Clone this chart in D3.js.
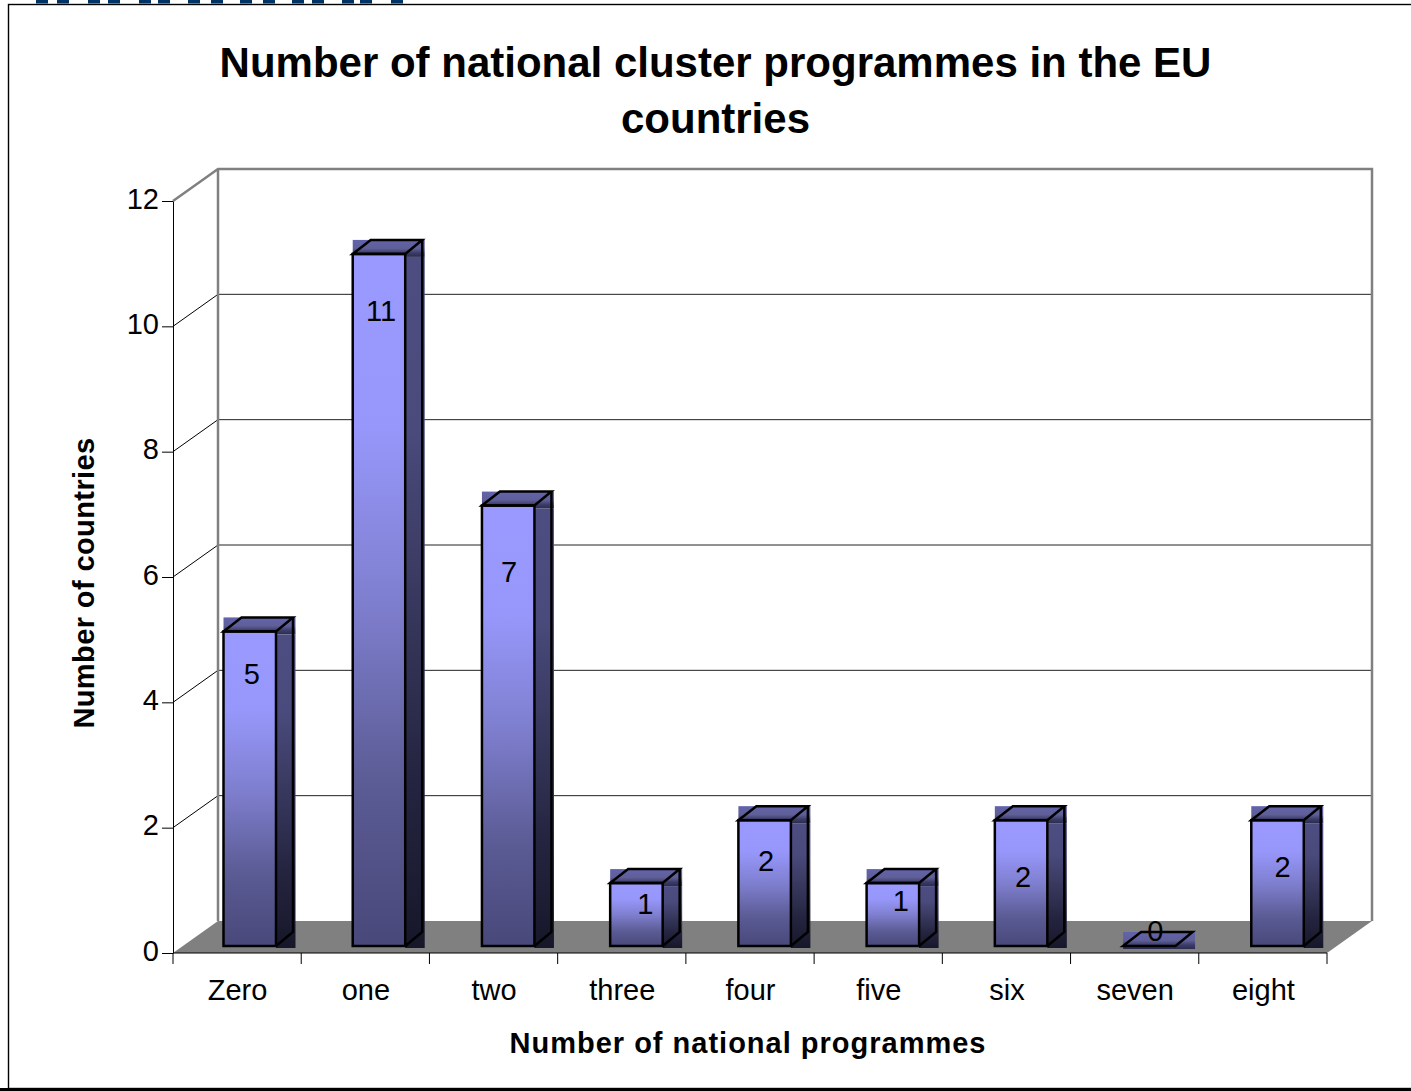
<!DOCTYPE html>
<html><head><meta charset="utf-8">
<script src="https://cdn.jsdelivr.net/npm/d3@7"></script>
<style>html,body{margin:0;padding:0;background:#fff;overflow:hidden}svg{display:block}text{font-family:"Liberation Sans",Arial,sans-serif;fill:#000}</style>
</head><body><svg id="c" width="1411" height="1091"></svg>
<script>
const categories=["Zero","one","two","three","four","five","six","seven","eight"];
const values=[5,11,7,1,2,1,2,0,2];
const yTicks=[0,2,4,6,8,10,12];
const title=["Number of national cluster programmes in the EU","countries"];
const labelDy=[52.5,67.5,76,31,51,28,67,-5,57];
const labelDx=[2,2,1,9,1.5,8,2,6,5];
const headerStarts=[36,57,88,108,139,158,188,211,240,263,292,312,342,360,391];

const svg=d3.select("#c");
const W=1411,H=1091;
const x=d3.scaleBand().domain(categories).range([173,1327]);
const y=d3.scaleLinear().domain([0,12]).range([953,201]);
const yb=d3.scaleLinear().domain([0,12]).range([946,191]);
const DX=45,DY=-32;       // wall depth
const bx=18,by=-14;       // bar depth
const barOff=50.5,barW=52.5;
const FS=29;

const defs=svg.append("defs");
function grad(id,stops){const g=defs.append("linearGradient").attr("id",id).attr("x1",0).attr("x2",0).attr("y1",0).attr("y2",1);
 stops.forEach(s=>g.append("stop").attr("offset",s[0]).attr("stop-color",s[1]));}
grad("front",[[0,"#9999ff"],[.25,"#9797fb"],[.5,"#7f7fd0"],[.76,"#5c5c96"],[1,"#48487a"]]);
grad("side",[[0,"#4d4d82"],[.25,"#4a4a7c"],[.5,"#38385e"],[.76,"#242440"],[1,"#17172a"]]);
grad("topb",[[0,"#6363ad"],[.5,"#5f5f98"],[.78,"#3a3a66"],[1,"#2c2c50"]]);

// header remnant + frame
svg.append("g").selectAll("rect").data(headerStarts).join("rect").attr("x",d=>d).attr("y",0).attr("width",12).attr("height",3.5).attr("fill","#003366");
svg.append("rect").attr("x",8.5).attr("y",4.5).attr("width",1420).attr("height",1084).attr("fill","#fff").attr("stroke","#000").attr("stroke-width",1.4);
svg.append("rect").attr("x",0).attr("y",1088).attr("width",W).attr("height",3).attr("fill","#000");

// walls
const L=x.range()[0],R=x.range()[1];
const wall=svg.append("g");
wall.append("path").attr("d",`M${L},${y(0)}L${L+DX},${y(0)+DY}H${R+DX}L${R},${y(0)}Z`).attr("fill","#808080");
yTicks.filter(t=>t>0&&t<12).forEach(t=>{
 wall.append("line").attr("x1",L).attr("y1",y(t)).attr("x2",L+DX).attr("y2",y(t)+DY).attr("stroke","#000");
 wall.append("line").attr("x1",L+DX).attr("y1",y(t)+DY).attr("x2",R+DX).attr("y2",y(t)+DY).attr("stroke","#222");
});
wall.append("path").attr("d",`M${L},${y(12)}L${L+DX},${y(12)+DY}H${R+DX}V${y(0)+DY}M${L+DX},${y(12)+DY}V${y(0)+DY}`)
 .attr("fill","none").attr("stroke","#808080").attr("stroke-width",2.5);

// axes
const yAxis=d3.axisLeft(y).tickValues(yTicks).tickSize(11).tickSizeOuter(0).tickPadding(3);
const gy=svg.append("g").attr("transform",`translate(${L},0)`).call(yAxis);
gy.selectAll("text").attr("font-size",FS).attr("dy","0.25em");
const edges=d3.range(categories.length+1).map(i=>L+i*x.step());
const gx=svg.append("g").attr("transform",`translate(0,${y(0)})`);
gx.append("line").attr("x1",L).attr("x2",R).attr("stroke","#000");
gx.selectAll("line.t").data(edges).join("line").attr("class","t").attr("x1",d=>d).attr("x2",d=>d).attr("y2",11).attr("stroke","#000");
gx.selectAll("text").data(categories).join("text").attr("x",d=>x(d)+x.step()/2+0.5).attr("y",46.5).attr("text-anchor","middle").attr("font-size",FS).text(d=>d);
svg.selectAll(".domain,.tick line").attr("stroke","#000");

// bars
const bars=svg.append("g").selectAll("g").data(categories).join("g");
bars.each(function(c,i){
 const g=d3.select(this),v=values[i],x0=x(c)+barOff+Math.min(i,2),x1=x0+barW,t=yb(v),b=yb(0);
 g.append("rect").attr("x",x0).attr("y",t+by).attr("width",barW+bx+1.5).attr("height",-by+3).attr("fill","url(#topb)");
 if(v>0){
  g.append("rect").attr("x",x1).attr("y",t+3).attr("width",bx+1.5).attr("height",b-t-1).attr("fill","url(#side)");
  g.append("rect").attr("x",x0).attr("y",t).attr("width",barW).attr("height",b-t).attr("fill","url(#front)").attr("stroke","#000").attr("stroke-width",2.5);
  g.append("path").attr("d",`M${x1},${b}L${x1+bx-1},${b+by}V${t+by}`).attr("fill","none").attr("stroke","#000").attr("stroke-width",2.5);
 }
 g.append("path").attr("d",`M${x0},${t}L${x0+bx},${t+by}H${x1+bx-1}L${x1},${t}Z`).attr("fill","none").attr("stroke","#000").attr("stroke-width",2.5);
 g.append("text").attr("x",x0+barW/2+labelDx[i]).attr("y",t+labelDy[i]).attr("text-anchor","middle").attr("font-size",FS).text(v);
});

// titles
svg.append("g").selectAll("text").data(title).join("text").attr("x",715.5).attr("y",(d,i)=>77+i*56).attr("text-anchor","middle").attr("font-size",42).attr("font-weight","bold").text(d=>d);
svg.append("text").attr("transform","translate(94,583) rotate(-90)").attr("text-anchor","middle").attr("font-size",FS).attr("letter-spacing",0.4).attr("font-weight","bold").text("Number of countries");
svg.append("text").attr("x",748).attr("y",1053).attr("text-anchor","middle").attr("font-size",FS).attr("letter-spacing",1).attr("font-weight","bold").text("Number of national programmes");
</script></body></html>
